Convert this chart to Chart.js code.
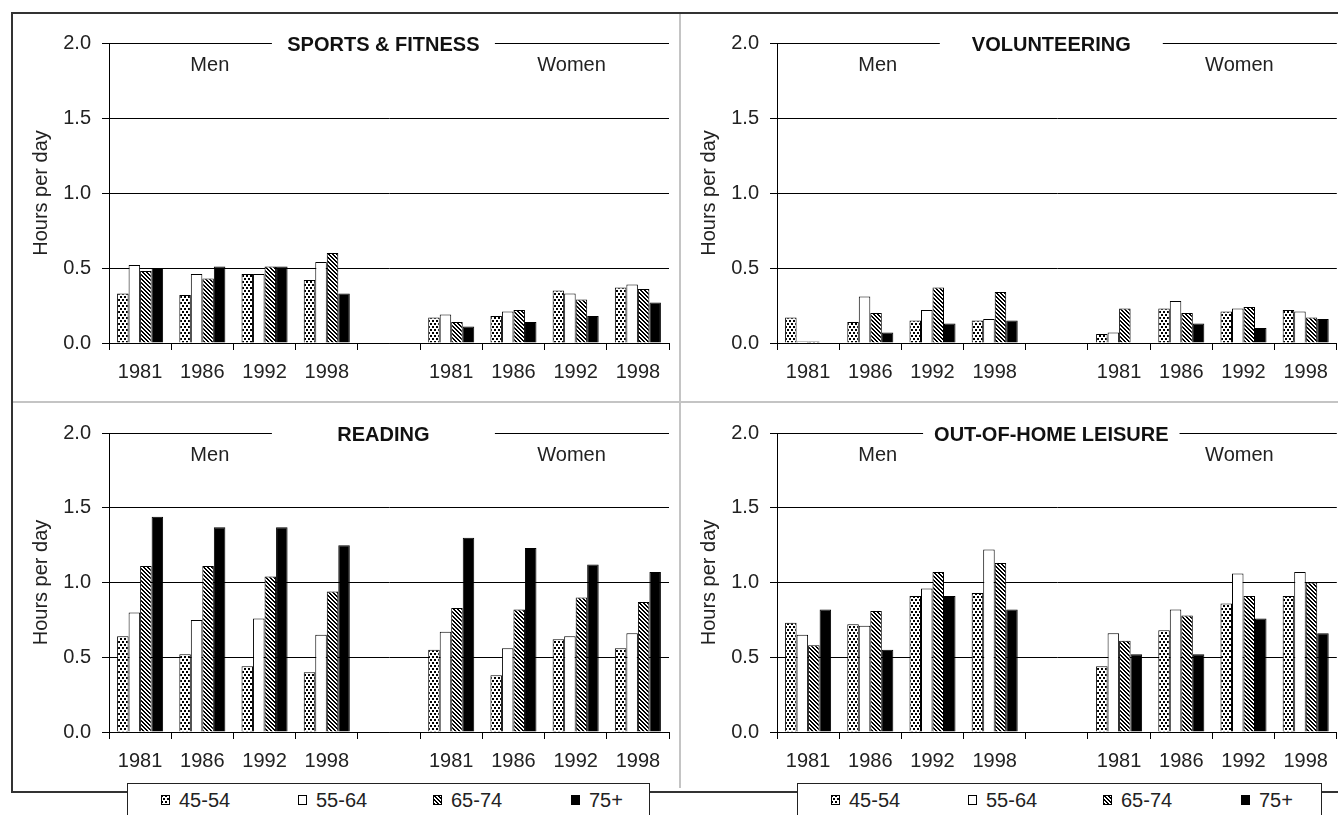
<!DOCTYPE html>
<html>
<head>
<meta charset="utf-8">
<script src="https://cdn.jsdelivr.net/npm/chart.js@4/dist/chart.umd.min.js"></script>
<style>
html,body{margin:0;padding:0;background:#fff;width:1338px;height:815px;overflow:hidden;font-family:"Liberation Sans",Arial,sans-serif;}
.ln{position:absolute;}
.cv{position:absolute;}
.legend{position:absolute;top:783px;height:60px;background:#fff;border:1px solid #222;box-sizing:border-box;}
.item{position:absolute;top:6px;font-size:20px;line-height:20px;color:#222;display:flex;align-items:center;white-space:nowrap;}
.item canvas{margin-right:9px;display:block;}
</style>
</head>
<body>
<div class="ln" style="left:11px;top:12px;width:1327px;height:2px;background:#333"></div>
<div class="ln" style="left:11px;top:12px;width:2px;height:781px;background:#333"></div>
<div class="ln" style="left:11px;top:791px;width:1327px;height:2px;background:#333"></div>
<div class="ln" style="left:679px;top:14px;width:2px;height:774px;background:#c4c4c4"></div>
<div class="ln" style="left:13px;top:401px;width:1325px;height:2px;background:#c4c4c4"></div>

<canvas class="cv" id="c0" width="666" height="387" style="left:12px;top:14px"></canvas>
<canvas class="cv" id="c1" width="657" height="387" style="left:681px;top:14px"></canvas>
<canvas class="cv" id="c2" width="666" height="386" style="left:12px;top:404px"></canvas>
<canvas class="cv" id="c3" width="657" height="386" style="left:681px;top:404px"></canvas>

<div class="legend" id="lg0" style="left:127px;width:523px"></div>
<div class="legend" id="lg1" style="left:797px;width:525px"></div>

<script>
// ---------- data ----------
const years = ['1981', '1986', '1992', '1998'];
const categories = ['1981', '1986', '1992', '1998', '', '1981', '1986', '1992', '1998'];
const groups = ['Men', 'Women'];
const ageGroups = ['45-54', '55-64', '65-74', '75+'];
const yTicks = [0, 0.5, 1.0, 1.5, 2.0];
const panelTitles = ['SPORTS & FITNESS', 'VOLUNTEERING', 'READING', 'OUT-OF-HOME LEISURE'];

// Sports & fitness
const sports45 = [0.33, 0.32, 0.46, 0.42, null, 0.17, 0.18, 0.35, 0.37];
const sports55 = [0.52, 0.46, 0.46, 0.54, null, 0.19, 0.21, 0.33, 0.39];
const sports65 = [0.48, 0.43, 0.51, 0.60, null, 0.14, 0.22, 0.29, 0.36];
const sports75 = [0.50, 0.51, 0.51, 0.33, null, 0.11, 0.14, 0.18, 0.27];
// Volunteering
const volun45 = [0.17, 0.14, 0.15, 0.15, null, 0.06, 0.23, 0.21, 0.22];
const volun55 = [0.01, 0.31, 0.22, 0.16, null, 0.07, 0.28, 0.23, 0.21];
const volun65 = [0.01, 0.20, 0.37, 0.34, null, 0.23, 0.20, 0.24, 0.17];
const volun75 = [0.00, 0.07, 0.13, 0.15, null, 0.00, 0.13, 0.10, 0.16];
// Reading
const read45 = [0.64, 0.52, 0.44, 0.40, null, 0.55, 0.38, 0.62, 0.56];
const read55 = [0.80, 0.75, 0.76, 0.65, null, 0.67, 0.56, 0.64, 0.66];
const read65 = [1.11, 1.11, 1.04, 0.94, null, 0.83, 0.82, 0.90, 0.87];
const read75 = [1.44, 1.37, 1.37, 1.25, null, 1.30, 1.23, 1.12, 1.07];
// Out-of-home leisure
const out45 = [0.73, 0.72, 0.91, 0.93, null, 0.44, 0.68, 0.86, 0.91];
const out55 = [0.65, 0.71, 0.96, 1.22, null, 0.66, 0.82, 1.06, 1.07];
const out65 = [0.58, 0.81, 1.07, 1.13, null, 0.61, 0.78, 0.91, 1.00];
const out75 = [0.82, 0.55, 0.91, 0.82, null, 0.52, 0.52, 0.76, 0.66];

// ---------- patterns ----------
function makePattern(kind) {
  const c = document.createElement('canvas');
  const x = c.getContext('2d');
  if (kind === 'dots') {
    c.width = 4; c.height = 6;
    x.fillStyle = '#fff'; x.fillRect(0, 0, 4, 6);
    x.fillStyle = '#000';
    x.fillRect(0, 0, 2, 2); x.fillRect(2, 3, 2, 2);
  } else if (kind === 'hatch') {
    c.width = 4; c.height = 4;
    x.fillStyle = '#fff'; x.fillRect(0, 0, 4, 4);
    x.fillStyle = '#000';
    for (let py = 0; py < 4; py++) for (let px = 0; px < 4; px++) {
      const d = ((px - py) % 4 + 4) % 4;
      if (d === 0 || d === 1) x.fillRect(px, py, 1, 1);
    }
  }
  return x.createPattern(c, 'repeat');
}
const fills = [makePattern('dots'), '#ffffff', makePattern('hatch'), '#000000'];

const FONT = '"Liberation Sans", Arial, sans-serif';
const TXT = '#222';

const panelText = {
  id: 'panelText',
  afterDraw(chart, args, opts) {
    const ctx = chart.ctx, a = chart.chartArea;
    const w = a.right - a.left;
    ctx.save();
    ctx.font = 'bold 20px ' + FONT;
    const tw = ctx.measureText(opts.title).width;
    const gw = Math.max(223, tw + 22);
    const cx = a.left + 0.49 * w;
    ctx.fillStyle = '#fff';
    ctx.fillRect(cx - gw / 2, a.top - 3, gw, 6);
    ctx.fillStyle = '#111';
    ctx.textAlign = 'center';
    ctx.textBaseline = 'middle';
    ctx.fillText(opts.title, cx, a.top + 2);
    ctx.font = '20px ' + FONT;
    ctx.fillStyle = TXT;
    ctx.fillText(groups[0], a.left + 0.18 * w, a.top + 22);
    ctx.fillText(groups[1], a.left + 0.826 * w, a.top + 22);
    ctx.restore();
  }
};

function makeChart(id, title, series, isRight) {
  const datasets = series.map((d, i) => ({
    label: ageGroups[i],
    data: d,
    backgroundColor: fills[i],
    borderColor: '#000',
    borderWidth: 1,
    categoryPercentage: 0.74,
    barPercentage: 1.0
  }));
  return new Chart(document.getElementById(id), {
    type: 'bar',
    data: { labels: categories, datasets },
    plugins: [panelText],
    options: {
      responsive: false,
      animation: false,
      layout: { padding: { top: 29, right: isRight ? 1 : 9, left: 0, bottom: 0 } },
      plugins: {
        legend: { display: false },
        tooltip: { enabled: false },
        panelText: { title }
      },
      scales: {
        x: {
          grid: { display: true, drawOnChartArea: false, drawTicks: true, tickLength: 7, offset: true, color: '#000', tickColor: '#000' },
          border: { display: true, color: '#000', width: 1 },
          ticks: { color: TXT, font: { family: FONT, size: 20 }, padding: 10, maxRotation: 0, autoSkip: false },
          afterFit(scale) { scale.height = 58; }
        },
        y: {
          min: 0, max: 2,
          afterBuildTicks(scale) { scale.ticks = yTicks.map(v => ({ value: v })); },
          grid: { color: '#000', lineWidth: 1, drawTicks: true, tickLength: 7, tickColor: '#000' },
          border: { display: true, color: '#000', width: 1 },
          ticks: { color: TXT, font: { family: FONT, size: 20 }, padding: 11, callback: v => Number(v).toFixed(1) },
          title: { display: true, text: 'Hours per day', color: TXT, font: { family: FONT, size: 20 }, padding: { top: isRight ? 16 : 17, bottom: 0 } },
          afterFit(scale) { scale.width = isRight ? 96 : 97; }
        }
      }
    }
  });
}

makeChart('c0', panelTitles[0], [sports45, sports55, sports65, sports75], false);
makeChart('c1', panelTitles[1], [volun45, volun55, volun65, volun75], true);
const chartR = makeChart('c2', panelTitles[2], [read45, read55, read65, read75], false);
makeChart('c3', panelTitles[3], [out45, out55, out65, out75], true);

// ---------- legends (built from the chart datasets) ----------
const itemOffsets = [33, 170, 305, 443];
function buildLegend(boxId, chart) {
  const box = document.getElementById(boxId);
  chart.data.datasets.forEach((ds, i) => {
    const it = document.createElement('div');
    it.className = 'item';
    it.style.left = itemOffsets[i] + 'px';
    const sw = document.createElement('canvas');
    sw.width = 9; sw.height = 10;
    const sx = sw.getContext('2d');
    sx.fillStyle = ds.backgroundColor;
    sx.fillRect(0, 0, 9, 10);
    sx.strokeStyle = '#000'; sx.lineWidth = 1;
    sx.strokeRect(0.5, 0.5, 8, 9);
    it.appendChild(sw);
    const sp = document.createElement('span');
    sp.textContent = ds.label;
    it.appendChild(sp);
    box.appendChild(it);
  });
}
buildLegend('lg0', chartR);
buildLegend('lg1', chartR);
</script>
</body>
</html>
